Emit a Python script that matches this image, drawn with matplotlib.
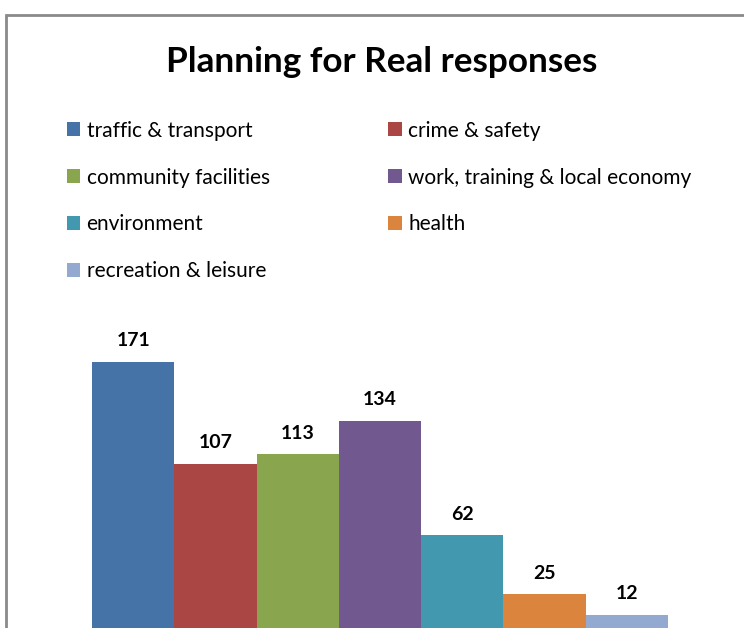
"""
    Planning for Real responses, bar chart
"""
import matplotlib.pyplot as plt
from matplotlib.patches import Patch, Rectangle

plt.rcParams['font.family'] = ['Lato', 'DejaVu Sans']

# data
categories = ["traffic & transport", "crime & safety", "community facilities",
              "work, training & local economy", "environment", "health",
              "recreation & leisure"]
responses = [171, 107, 113, 134, 62, 25, 12]
colors = ['#4572A7', '#AA4643', '#89A54E', '#71588F', '#4198AF', '#DB843D', '#93A9CF']

fig = plt.figure(figsize=(7.44, 6.28), dpi=100)

# frame of the chart area (only top and left edges are visible)
fig.patches.append(Rectangle((6 / 744, -0.1), 1.2, 1.1 - 15 / 628,
                             transform=fig.transFigure, fill=False,
                             edgecolor='#8a8a8a', linewidth=2))

# axes, zero line falls just below the bottom of the picture
ax = fig.add_axes([92 / 744, -6 / 628, 576 / 744, 318.2 / 628])
x = range(len(categories))
bars = ax.bar(x, responses, width=1.0, color=colors)
ax.set_xlim(-0.5, 6.5)
ax.set_ylim(0, 200)
ax.axis('off')

ax.bar_label(bars, labels=[str(v) for v in responses], padding=9,
             fontsize=14, fontweight='bold')

fig.text(382 / 744, 1 - 62 / 628, "Planning for Real responses",
         ha='center', va='center', fontsize=25.3, fontweight='bold')

# legend, filled column by column
order = [0, 2, 4, 6, 1, 3, 5]
handles = [Patch(facecolor=colors[i], label=categories[i]) for i in order]
fig.legend(handles=handles, ncol=2, loc='upper left',
           bbox_to_anchor=(48 / 744, 1 - 102 / 628), frameon=False,
           fontsize=15, handlelength=0.65, handleheight=0.65,
           handletextpad=0.3, columnspacing=5.7, labelspacing=1.29)

plt.savefig("out.png")
